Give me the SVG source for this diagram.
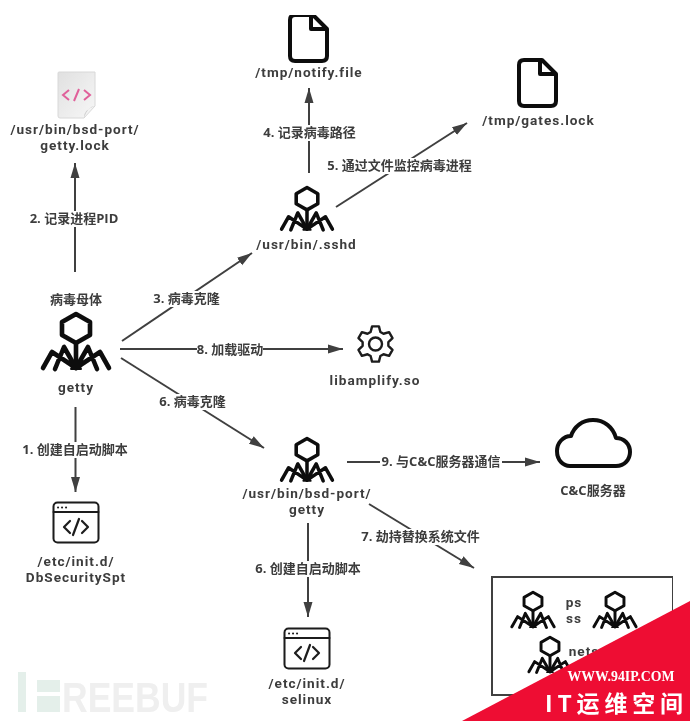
<svg xmlns="http://www.w3.org/2000/svg" width="690" height="721" viewBox="0 0 690 721">
<style>
.t{font-family:"Open Sans","Noto Sans CJK SC",sans-serif;font-size:13px;font-weight:700;fill:#3c3c3c;text-anchor:middle}
.p{font-family:Roboto,"Open Sans",sans-serif;font-size:13.6px;letter-spacing:0.98px}
.c{stroke:#3f3f3f;stroke-width:2;fill:none}
.lb{fill:#fff}
.ink{fill:none;stroke:#0c0c0c;stroke-linejoin:round;stroke-linecap:round}
</style>
<defs>
<filter id="soft" x="0" y="0" width="100%" height="100%"><feGaussianBlur stdDeviation="0.45"/></filter>
<marker id="ah" markerUnits="userSpaceOnUse" markerWidth="16" markerHeight="12" refX="15" refY="6" orient="auto"><path d="M0,1.500 L15,6 L0,10.500 Z" fill="#3f3f3f"/></marker>
<g id="virus" class="ink" stroke-width="4.600">
<path d="M0,2 L14,10 L14,23 L0,31 L-14,23 L-14,10 Z"/>
<path d="M0,31 V56"/>
<path d="M0,56 L-12,35 L-21,57 M0,56 L-24,40 L-33,56 M0,56 L12,35 L21,57 M0,56 L24,40 L33,56"/>
<path d="M0,48 L-5,57 H5 Z" fill="#0c0c0c" stroke-width="2"/>
</g>
<path id="file" class="ink" stroke-width="4" d="M5,0 H23 L37,14 V41 Q37,46 32,46 H5 Q0,46 0,41 V5 Q0,0 5,0 Z M21,0 V14 H37"/>
<g id="script" fill="none" stroke="#1c1c1c" stroke-linecap="round" stroke-linejoin="round">
<rect x="0.500" y="0.500" width="45" height="40" rx="4" stroke-width="2"/>
<path d="M0.500,10 H45.500" stroke-width="2"/>
<path d="M5,5.500 h0.100 M9,5.500 h0.100 M13,5.500 h0.100" stroke-width="2"/>
<path d="M17,19 L11,25 L17,31 M29,19 L35,25 L29,31 M26,17 L20,33" stroke-width="2.200"/>
</g>
<linearGradient id="page" x1="0" y1="0" x2="1" y2="1"><stop offset="0" stop-color="#e0e0e0"/><stop offset="1" stop-color="#f7f7f7"/></linearGradient>
</defs>
<rect width="690" height="721" fill="#fff"/>
<g filter="url(#soft)">
<g id="watermark">
<rect x="18" y="672" width="8" height="40" fill="#e4efea"/>
<rect x="37" y="680" width="23" height="12" fill="#e4efea"/>
<rect x="37" y="696" width="23" height="16" fill="#e4efea"/>
<text x="62" y="712" font-family="Liberation Sans,sans-serif" font-size="42" font-weight="700" fill="#efefef" textLength="146" lengthAdjust="spacingAndGlyphs">REEBUF</text>
</g>
<g id="connectors">
<path class="c" d="M75,272 V163" marker-end="url(#ah)"/>
<path class="c" d="M309,173 V88" marker-end="url(#ah)"/>
<path class="c" d="M336,207 L467,123" marker-end="url(#ah)"/>
<path class="c" d="M122,341 L252,253" marker-end="url(#ah)"/>
<path class="c" d="M120,349 H343" marker-end="url(#ah)"/>
<path class="c" d="M121,358 L264,448" marker-end="url(#ah)"/>
<path class="c" d="M75.500,407 V492" marker-end="url(#ah)"/>
<path class="c" d="M308,523 V617" marker-end="url(#ah)"/>
<path class="c" d="M347,462 H540" marker-end="url(#ah)"/>
<path class="c" d="M369,504 L474,568" marker-end="url(#ah)"/>
<rect class="lb" x="30" y="211" width="88" height="16"/>
<rect class="lb" x="256" y="125" width="107" height="16"/>
<rect class="lb" x="328" y="158" width="143" height="16"/>
<rect class="lb" x="153" y="291" width="67" height="16"/>
<rect class="lb" x="197" y="342" width="66" height="16"/>
<rect class="lb" x="159" y="394" width="67" height="16"/>
<rect class="lb" x="22" y="442" width="106" height="16"/>
<rect class="lb" x="255" y="561" width="106" height="16"/>
<rect class="lb" x="380" y="454" width="122" height="16"/>
<rect class="lb" x="361" y="529" width="119" height="16"/>
<text class="t" x="74" y="223">2. 记录进程PID</text>
<text class="t" x="309.500" y="137">4. 记录病毒路径</text>
<text class="t" x="399.500" y="170">5. 通过文件监控病毒进程</text>
<text class="t" x="186.500" y="303">3. 病毒克隆</text>
<text class="t" x="230" y="354">8. 加载驱动</text>
<text class="t" x="192.500" y="406">6. 病毒克隆</text>
<text class="t" x="75" y="454">1. 创建自启动脚本</text>
<text class="t" x="308" y="573">6. 创建自启动脚本</text>
<text class="t" x="441" y="466">9. 与C&amp;C服务器通信</text>
<text class="t" x="420.500" y="541">7. 劫持替换系统文件</text>
</g>
<g id="lock-file">
<path d="M59,72 H95 V106 L84,118 H60 Q58,118 58,116 V73 Q58,72 59,72 Z" fill="url(#page)" stroke="#d8d8d8"/>
<path d="M95,106 Q88,106 84,118 Q83,110 95,106 Z" fill="#cfcfcf"/>
<path d="M69,90 L63,95 L69,100 M84,90 L90,95 L84,100 M79,89 L74,101" fill="none" stroke="#e0609a" stroke-width="2"/>
<text class="t p" x="75" y="134">/usr/bin/bsd-port/</text>
<text class="t p" x="75" y="150">getty.lock</text>
</g>
<g id="notify-file"><use href="#file" x="290" y="15"/><text class="t p" x="309" y="77">/tmp/notify.file</text></g>
<g id="gates-lock"><use href="#file" x="519" y="60"/><text class="t p" x="538.500" y="125">/tmp/gates.lock</text></g>
<g id="sshd"><use href="#virus" transform="translate(307,186) scale(0.77)"/><text class="t p" x="306.500" y="249">/usr/bin/.sshd</text></g>
<g id="getty-main"><text class="t" x="76" y="304">病毒母体</text><use href="#virus" transform="translate(76,312)"/><text class="t p" x="76" y="392">getty</text></g>
<g id="libamplify">
<path transform="translate(375.500,344)" fill="none" stroke="#1c1c1c" stroke-width="2.400" stroke-linejoin="round" d="M-4.870,-12.050 L-3.430,-17.670 L3.430,-17.670 L4.870,-12.050 L8,-10.240 L13.590,-11.810 L17.020,-5.870 L12.870,-1.810 L12.870,1.810 L17.020,5.870 L13.590,11.810 L8,10.240 L4.870,12.050 L3.430,17.670 L-3.430,17.670 L-4.870,12.050 L-8,10.240 L-13.590,11.810 L-17.020,5.870 L-12.870,1.810 L-12.870,-1.810 L-17.020,-5.870 L-13.590,-11.810 L-8,-10.240 Z"/>
<circle cx="375.500" cy="344" r="6.500" fill="none" stroke="#1c1c1c" stroke-width="2.400"/>
<text class="t p" x="375" y="385">libamplify.so</text>
</g>
<g id="bsd-getty"><use href="#virus" transform="translate(307,437) scale(0.77)"/><text class="t p" x="307" y="498">/usr/bin/bsd-port/</text><text class="t p" x="307" y="514">getty</text></g>
<g id="init-db"><use href="#script" x="53" y="502"/><text class="t p" x="76" y="566">/etc/init.d/</text><text class="t p" x="76" y="582">DbSecuritySpt</text></g>
<g id="init-selinux"><use href="#script" x="284" y="628"/><text class="t p" x="307" y="688">/etc/init.d/</text><text class="t p" x="307" y="704">selinux</text></g>
<g id="cloud">
<path class="ink" stroke-width="4" d="M570,466 H616 C625,466 630,459 630,452 C630,444 624,438 616,438 C613,427 604,420 593,420 C582,420 574,427 571,436 C563,436 557,443 557,451 C557,460 563,466 570,466 Z"/>
<text class="t" x="593" y="495">C&amp;C服务器</text>
</g>
<g id="system-files">
<rect x="492" y="577" width="181" height="118" fill="#fff" stroke="#3f3f3f" stroke-width="2"/>
<use href="#virus" transform="translate(533,591) scale(0.64)"/>
<use href="#virus" transform="translate(615,591) scale(0.64)"/>
<use href="#virus" transform="translate(550,636) scale(0.64)"/>
<text class="t p" x="574" y="607">ps</text>
<text class="t p" x="574" y="623">ss</text>
<text class="t p" x="584" y="656">nets</text>
</g>
</g>
<g id="site-badge">
<path d="M690,601 V721 H462 Z" fill="#ee0d33"/>
<text x="621" y="681" font-family="Liberation Serif,serif" font-size="13.800" font-weight="700" fill="#fff" text-anchor="middle">WWW.94IP.COM</text>
<text x="545" y="712" font-family="Noto Sans CJK SC,sans-serif" font-size="23" font-weight="700" fill="#fff" textLength="138">IT运维空间</text>
</g>
</svg>
